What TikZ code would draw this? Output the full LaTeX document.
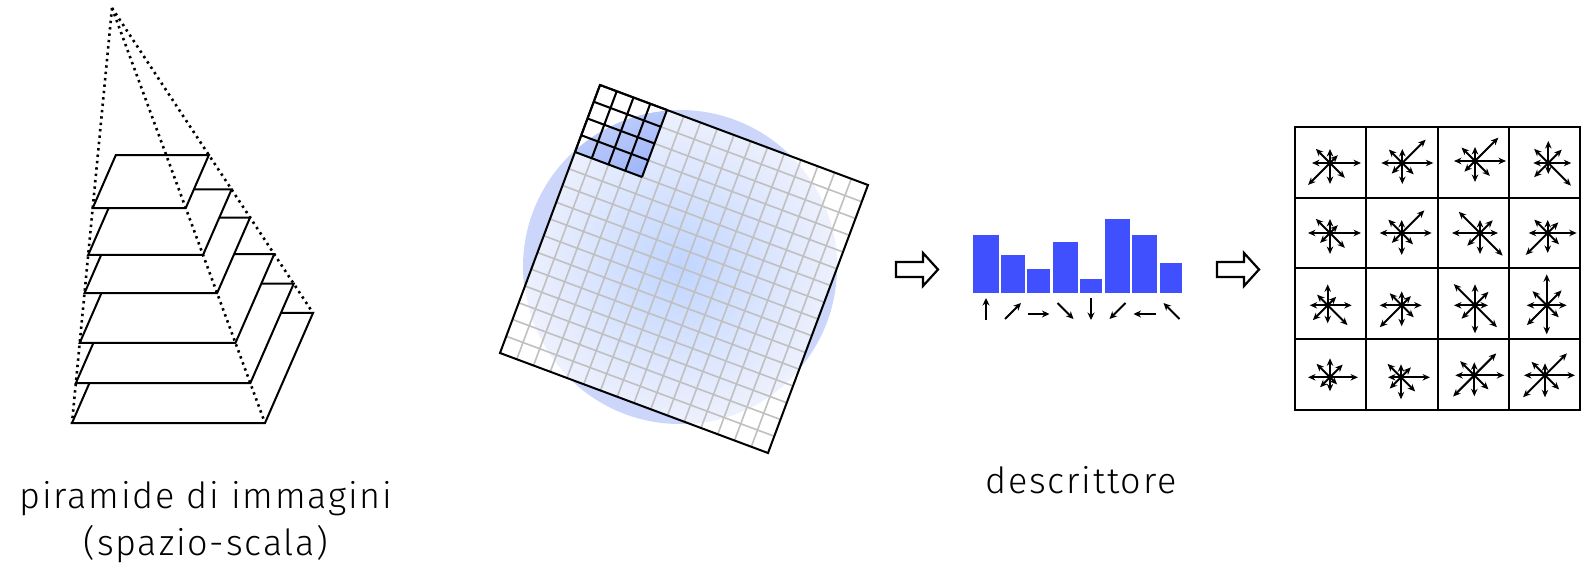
\documentclass[tikz,border=0pt]{standalone}
\usepackage{fontspec}
\setmainfont{Fira Sans Light}[LetterSpace=5]
\usetikzlibrary{arrows.meta,calc}
\definecolor{barblue}{RGB}{64,80,255}
\definecolor{blobout}{RGB}{203,214,250}
\definecolor{gridin}{RGB}{192,213,255}
\definecolor{gridout}{RGB}{238,241,253}
\definecolor{blocktop}{RGB}{205,216,250}
\definecolor{blockbot}{RGB}{160,182,250}
\definecolor{gridgray}{RGB}{192,192,192}
\pgfdeclareradialshading{gridblob}{\pgfpoint{0bp}{0bp}}{color(0bp)=(gridin); color(17bp)=(gridout); color(17.1bp)=(white); color(50bp)=(white)}
\begin{document}
\begin{tikzpicture}[x=1pt,y=-1pt,
  layer/.style={draw=black,fill=white,line width=2pt,line join=miter},
  guide/.style={line width=2.6pt,dash pattern=on 2.4pt off 4pt},
  gridline/.style={draw=gridgray,line width=1.6pt},
  blockline/.style={draw=black,line width=2pt},
  border/.style={draw=black,line width=2pt,line join=miter},
  bar/.style={fill=barblue},
  harrow/.style={line width=2pt,-{Stealth[length=7.5pt,width=7pt]}},
  cellbox/.style={draw=black,line width=2pt},
  sarrow/.style={line width=2pt,-{Stealth[length=7.5pt,width=6.5pt]}},
  hollow/.style={draw=black,line width=2.2pt,fill=white,line join=miter},
  lbl/.style={font=\fontsize{36}{42}\selectfont,inner sep=0pt,anchor=base}]
\useasboundingbox (0,0) rectangle (1585,569);

% pyramid
\coordinate (A) at (112,8);
\coordinate (BL) at (72,423);
\coordinate (BR) at (265,423);
\coordinate (TR) at (313,313);
\coordinate (TL) at (120,313);
\foreach \t in {1,0.904,0.807,0.687,0.595,0.482}
  \draw[layer] ($(A)!\t!(BL)$) -- ($(A)!\t!(BR)$) -- ($(A)!\t!(TR)$) -- ($(A)!\t!(TL)$) -- cycle;
\draw[guide] (A) -- (BL);
\draw[guide] (A) -- (BR);
\draw[guide] (A) -- (TR);

% blob and grid
\fill[blobout] (680,267) circle (157pt);
\begin{scope}
  \clip (600,85) -- (868,185) -- (768,453) -- (500,353) -- cycle;
  \shade[shading=gridblob] (680,267) circle (230pt);
\end{scope}
\begin{scope}
  \clip (680,267) circle (157pt);
  \shade[top color=blocktop,bottom color=blockbot,shading angle=24.5] (600,85) -- (667,110) -- (642,177) -- (575,152) -- cycle;
\end{scope}
\begin{scope}[even odd rule]
  \clip (680,267) circle (157pt) (-10,-10) rectangle (1600,600);
  \fill[white] (600,85) -- (667,110) -- (642,177) -- (575,152) -- cycle;
\end{scope}
\begin{scope}[shift={(600,85)},x={(16.75pt,-6.25pt)},y={(-6.25pt,-16.75pt)}]
  \foreach \i in {1,...,15} {
    \draw[gridline] (\i,0) -- (\i,16);
    \draw[gridline] (0,\i) -- (16,\i);
  }
  \foreach \i in {0,...,4} {
    \draw[blockline] (\i,0) -- (\i,4);
    \draw[blockline] (0,\i) -- (4,\i);
  }
  \draw[border] (0,0) -- (16,0) -- (16,16) -- (0,16) -- cycle;
\end{scope}

% hollow arrows
\draw[hollow] (896,262) -- (923,262) -- (923,253) -- (938,269.5) -- (923,286) -- (923,277) -- (896,277) -- cycle;
\begin{scope}[shift={(321,0)}]
\draw[hollow] (896,262) -- (923,262) -- (923,253) -- (938,269.5) -- (923,286) -- (923,277) -- (896,277) -- cycle;
\end{scope}

% histogram
\foreach \l/\r/\t in {973/999/235, 1001/1025/255, 1027/1050/269, 1053/1078/242, 1080/1102/279, 1105/1130/219, 1132/1157/235, 1160/1182/263}
  \fill[bar] (\l,293) rectangle (\r,\t);
\draw[harrow] (986,320) -- (986,298);
\draw[harrow] (1005,319) -- (1021,303);
\draw[harrow] (1027.5,314) -- (1049.5,314);
\draw[harrow] (1057.5,303) -- (1073.5,319);
\draw[harrow] (1091,298) -- (1091,320);
\draw[harrow] (1125.5,303) -- (1109.5,319);
\draw[harrow] (1155.5,314) -- (1133.5,314);
\draw[harrow] (1179.5,319) -- (1163.5,303);

% descriptor grid
\foreach \cc in {0,...,3}
  \foreach \rr in {0,...,3}
    \draw[cellbox] (1295+71.25*\cc,127+70.75*\rr) rectangle ++(71.25,70.75);
\foreach \cx/\cy/\pa/\pb/\pc/\pd/\pe/\pf/\pg/\ph in {
  1330/163/31/11/14/20/18/31/21/21,
  1402.3/163/31/33/14/19/21/15/21/16,
  1475/161/31/33/14/19/21/15/21/21,
  1548.3/163/23/19/22/20/15/20/11/32,
  1330/233/31/11/14/20/22/14/21/21,
  1401.7/233/30/32/13/19/22/14/22/16,
  1480/233/18/18/13/30/28/18/21/32,
  1547.7/233/29/15/13/19/19/31/20/16,
  1327.7/305.3/24/12/21/15/18/21/18/28,
  1401.7/305.3/20/13/14/17/22/31/21/17,
  1475/305.3/13/19/21/30/21/19/28/31,
  1546.7/305.3/20/21/31/20/20/28/29/17,
  1330/377.3/28/18/19/19/22/14/14/10,
  1401/377.3/29/14/13/19/13/16/22/20,
  1474.3/375.3/30/31/13/20/19/30/21/20,
  1545/375.3/30/31/12/19/21/31/22/20}{
  \foreach \ang/\len in {0/\pa,45/\pb,90/\pc,135/\pd,180/\pe,225/\pf,270/\pg,315/\ph}
    \draw[sarrow] (\cx,\cy) -- ++(\ang:\len pt);
}

% labels
\node[lbl] (pyr1) at (206,508) {piramide di immagini};
\node[lbl] (pyr2) at (206,555) {(spazio-scala)};
\node[lbl] (desc) at (1081,493) {descrittore};
\end{tikzpicture}
\end{document}
